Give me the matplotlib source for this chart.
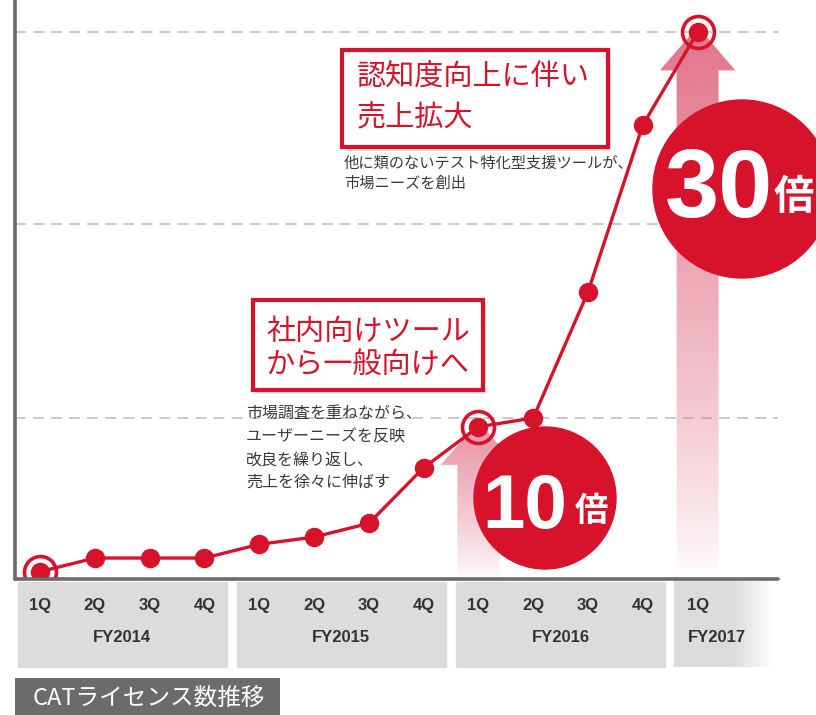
import numpy as np
import matplotlib.pyplot as plt
from matplotlib.patches import Rectangle, Circle, Polygon
from matplotlib.colors import to_rgb

plt.rcParams['font.family'] = ['Noto Sans CJK JP', 'DejaVu Sans']

# データ (CATライセンス数の相対値, 目盛なし)
quarters = ['1Q', '2Q', '3Q', '4Q', '1Q', '2Q', '3Q', '4Q', '1Q', '2Q', '3Q', '4Q', '1Q']
years = ['FY2014', 'FY2015', 'FY2016', 'FY2017']
year_first = [0, 4, 8, 12]
year_last = [3, 7, 11, 12]
licenses = [0.4, 1.15, 1.15, 1.15, 1.9, 2.3, 3.05, 6.1, 8.35, 8.83, 15.75, 24.9, 30.0]
grid_levels = [8.83, 19.47, 30.0]
highlight = [0, 8, 12]      # 丸で囲む点
arrow_at = [8, 12]          # 矢印を描く点

W, H = 816, 715
RED = '#d7132c'
GRAY = '#6b6b6b'

def P(x, y):                # ピクセル -> figure座標
    return (x / W, 1 - y / H)

fig = plt.figure(figsize=(W / 100, H / 100), dpi=100)
ax = fig.add_axes([15 / W, (H - 579) / H, 763 / W, 579 / H])

x = np.arange(len(licenses))
y = np.array(licenses)

# 点線のグリッド
for g in grid_levels:
    ax.axhline(g, color='#c4c4c4', lw=1.3, dashes=(6, 4), zorder=1)

# グラデーション矢印
for i, top_alpha in zip(arrow_at, [0.8, 1.0]):
    tip = licenses[i] + 0.3
    base = tip - 2.4
    sw, hw = 0.383, 0.69
    pts = [(i - sw, 0), (i - sw, base), (i - hw, base), (i, tip),
           (i + hw, base), (i + sw, base), (i + sw, 0)]
    poly = Polygon(pts, closed=True, transform=ax.transData)
    grad = np.zeros((200, 1, 4))
    grad[:, 0, :3] = to_rgb('#e2748a')
    grad[:, 0, 3] = top_alpha * np.linspace(0, 1, 200) ** 0.8
    im = ax.imshow(grad, extent=[i - hw, i + hw, 0, tip], origin='lower',
                   aspect='auto', zorder=2, interpolation='bilinear')
    im.set_clip_path(poly)

# 折れ線
ax.plot(x, y, color=RED, lw=2.4, marker='o', ms=13, zorder=4)
ax.plot(x[highlight], y[highlight], 'o', ms=23, mfc='none', mec=RED,
        mew=2.6, zorder=4)

# 年度のボックス
for k, (yr, a, b) in enumerate(zip(years, year_first, year_last)):
    if k < 3:
        ax.add_patch(Rectangle((a - 0.4, -4.83), (b - a) + 0.81, 4.67,
                               color='#dcdcdc', clip_on=False, zorder=1))
        cx = (a + b) / 2
    else:
        fade = np.zeros((1, 100, 4))
        fade[0, :, :3] = to_rgb('#dcdcdc')
        fade[0, :, 3] = np.clip((1 - np.linspace(0, 1, 100)) / 0.4, 0, 1)
        ax.imshow(fade, extent=[a - 0.43, a + 1.38, -4.83, -0.16],
                  aspect='auto', clip_on=False, zorder=1)
        cx = a + 0.35
    ax.text(cx, -3.2, yr, ha='center', va='center', fontsize=12,
            fontweight='bold', color='#333333', family='Liberation Sans')

ax.set_xlim(-0.456, 13.467)
ax.set_ylim(0, 31.76)
ax.set_xticks(x, quarters)
ax.set_yticks([])
ax.tick_params(axis='x', length=0, pad=14, labelsize=12, labelcolor='#333333')
for t in ax.get_xticklabels():
    t.set_fontweight('bold')
    t.set_family('Liberation Sans')

for s in ['top', 'right']:
    ax.spines[s].set_visible(False)
for s in ['left', 'bottom']:
    ax.spines[s].set_color(GRAY)
    ax.spines[s].set_linewidth(2.6)
    ax.spines[s].set_capstyle('round')
ax.spines['bottom'].set_zorder(5)

# 赤丸「10倍」「30倍」
fig.add_artist(Circle((545 / 100, (H - 498) / 100), 0.71, color=RED,
                      transform=fig.dpi_scale_trans, zorder=6))
fig.add_artist(Circle((742 / 100, (H - 189) / 100), 0.89, color=RED,
                      transform=fig.dpi_scale_trans, zorder=6, clip_on=False))
fig.text(*P(525, 528), '10', ha='center', va='baseline', fontsize=55,
         fontweight='bold', color='white', family='Liberation Sans', zorder=7)
fig.text(*P(591, 521), '倍', ha='center', va='baseline', fontsize=24,
         fontweight='bold', color='white', zorder=7)
fig.text(*P(719, 217), '30', ha='center', va='baseline', fontsize=70,
         fontweight='bold', color='white', family='Liberation Sans', zorder=7)
fig.text(*P(794, 209), '倍', ha='center', va='baseline', fontsize=29,
         fontweight='bold', color='white', zorder=7)

# 赤枠の見出し
def red_box(x0, y0, x1, y1, lines, ys, tx):
    fig.add_artist(Rectangle(P(x0 + 3, y1 + 4), (x1 - x0) / W, (y1 - y0) / H,
                             color='#b0b0b0', alpha=0.35, lw=0, zorder=6))
    fig.add_artist(Rectangle(P(x0, y1), (x1 - x0) / W, (y1 - y0) / H,
                             facecolor='white', edgecolor=RED, lw=3, zorder=6))
    for line, yy in zip(lines, ys):
        fig.text(*P(tx, yy), line, ha='left', va='center', fontsize=21,
                 color=RED, zorder=7)

red_box(342, 50, 608, 147, ['認知度向上に伴い', '売上拡大'], [78, 118], 357)
red_box(253, 300, 483, 390, ['社内向けツール', 'から一般向けへ'], [332, 365], 266)

sub1 = ['他に類のないテスト特化型支援ツールが、', '市場ニーズを創出']
for line, yy in zip(sub1, [163, 183]):
    fig.text(*P(344, yy), line, ha='left', va='center', fontsize=11,
             color='#3a3a3a', zorder=7)
sub2 = ['市場調査を重ねながら、', 'ユーザーニーズを反映', '改良を繰り返し、', '売上を徐々に伸ばす']
for line, yy in zip(sub2, [413, 437, 460, 482]):
    fig.text(*P(246, yy), line, ha='left', va='center', fontsize=11.5,
             color='#3a3a3a', zorder=7)

# タイトル
fig.add_artist(Rectangle(P(15, 716), 265 / W, 38 / H, color=GRAY, lw=0, zorder=6))
fig.text(*P(33, 698), 'CATライセンス数推移', ha='left', va='center',
         fontsize=17, color='white', zorder=7)

fig.savefig('out.png', dpi=100)
